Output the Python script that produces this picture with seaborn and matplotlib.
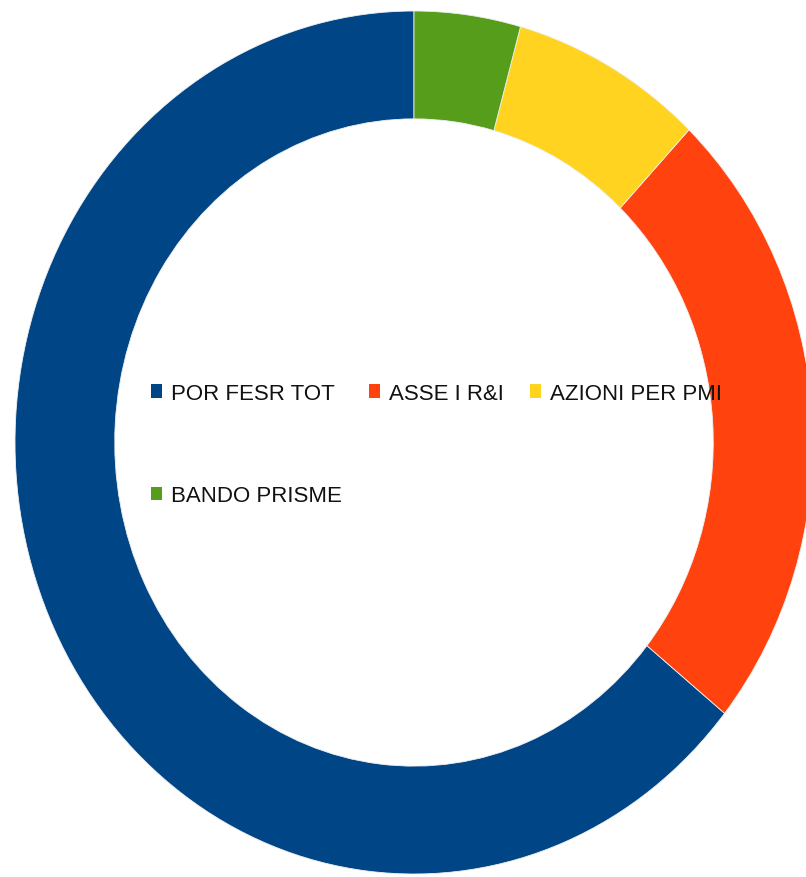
import seaborn as sns
import matplotlib.pyplot as plt
from matplotlib.patches import Patch

# values (share of the full circle, %)
labels = ['POR FESR TOT', 'ASSE I R&I', 'AZIONI PER PMI', 'BANDO PRISME']
values = [64.2, 23.7, 7.8, 4.3]
colors = ['#004586', '#ff420e', '#ffd320', '#579d1c']

sns.set_style('white')
plt.rcParams['font.family'] = ['Liberation Sans', 'DejaVu Sans']

fig = plt.figure(figsize=(8.06, 8.78), dpi=100)
# ring is stretched a little vertically in the original, so no equal aspect
ax = fig.add_axes([15 / 806, 3 / 878, 798 / 806, 863 / 878])
ax.pie(values, colors=colors, startangle=90, counterclock=True, radius=1,
       wedgeprops=dict(width=0.25, edgecolor='#f0f0f0', linewidth=0.6))
ax.set_aspect('auto')
ax.set_xlim(-1, 1)
ax.set_ylim(-1, 1)
ax.axis('off')

# legend fills column by column, so reorder to read row by row
order = [0, 3, 1, 2]
handles = [Patch(facecolor=colors[i], edgecolor='none') for i in order]
fig.legend(handles, [labels[i] for i in order], ncol=3, frameon=False,
           fontsize=16, loc='upper left',
           bbox_to_anchor=(151 / 806, 1 - 384 / 878),
           bbox_transform=fig.transFigure, borderpad=0, borderaxespad=0,
           handlelength=0.5, handleheight=0.55, handletextpad=0.4,
           columnspacing=1.2, labelspacing=3.65, labelcolor='#111111')

plt.savefig('out.png', dpi=100)
